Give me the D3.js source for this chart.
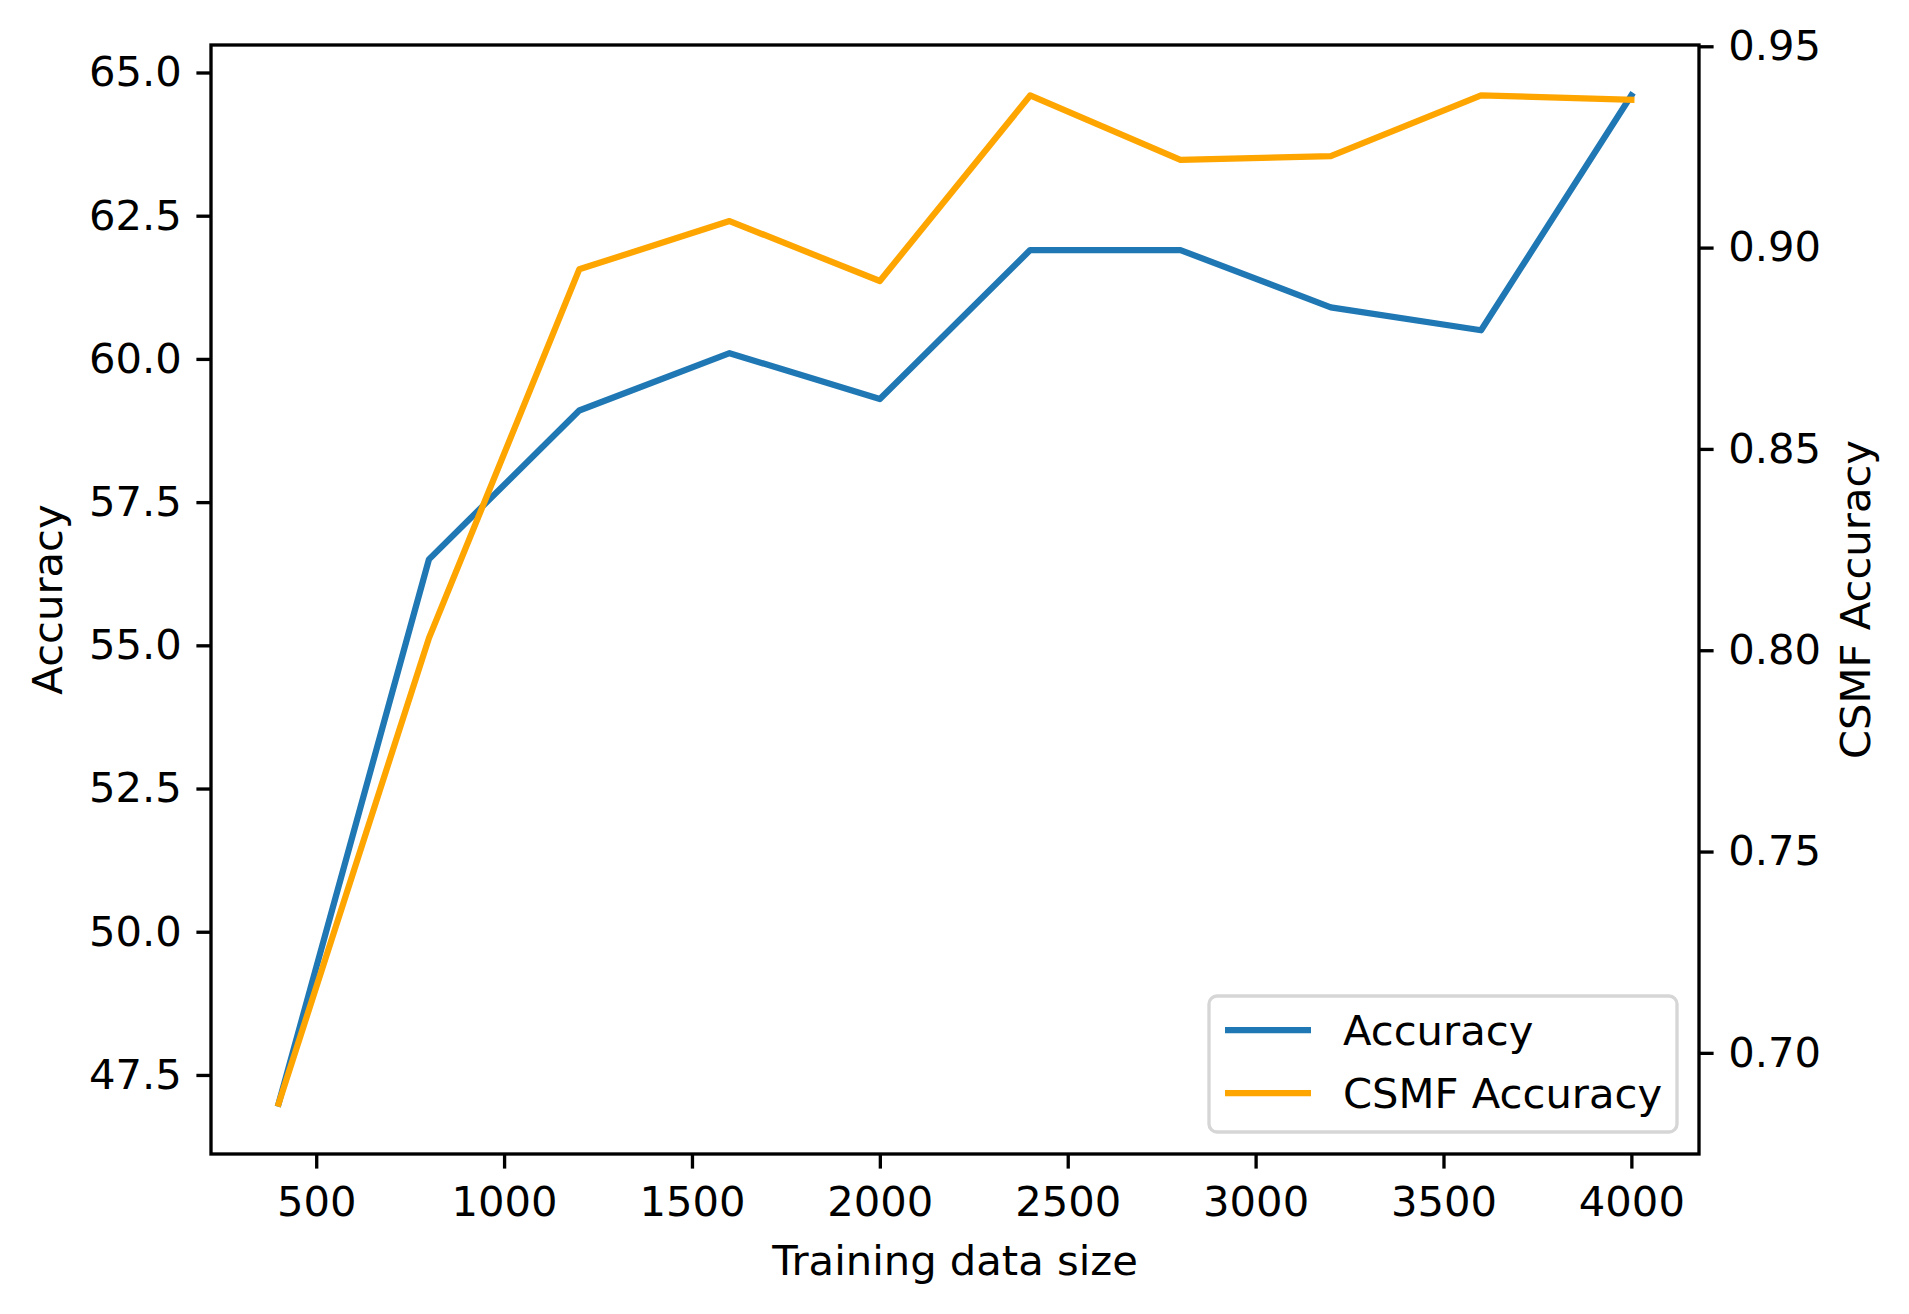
<!DOCTYPE html>
<html>
<head>
<meta charset="utf-8">
<script src="https://cdn.jsdelivr.net/npm/d3@7"></script>
<style>
  html, body { margin: 0; padding: 0; background: #fff; }
  text { font-family: "DejaVu Sans", sans-serif; }
</style>
</head>
<body>
<svg id="chart" width="1909" height="1314"></svg>
<script>
const trainingSizes = [400, 800, 1200, 1600, 2000, 2400, 2800, 3200, 3600, 4000];
const accuracy = [47.0, 56.5, 59.1, 60.1, 59.3, 61.9, 61.9, 60.9, 60.5, 64.6];
const csmfAccuracy = [0.6874, 0.803, 0.8946, 0.9066, 0.8917, 0.9378, 0.9218, 0.9227, 0.9378, 0.9367];
const xTicks = [500, 1000, 1500, 2000, 2500, 3000, 3500, 4000];
const yLeftTicks = [47.5, 50.0, 52.5, 55.0, 57.5, 60.0, 62.5, 65.0];
const yRightTicks = [0.70, 0.75, 0.80, 0.85, 0.90, 0.95];
const seriesNames = ["Accuracy", "CSMF Accuracy"];
const seriesColors = ["#1f77b4", "#ffa500"];

const svg = d3.select("#chart");
const L = 211, R = 1699, T = 45, B = 1154;
const fontSize = 41.7, tickLen = 14.6, pad = 14.6, lw = 6.25, axisW = 3.33;

function padDomain(arr) {
  const mn = d3.min(arr), mx = d3.max(arr), m = (mx - mn) * 0.05;
  return [mn - m, mx + m];
}
const x = d3.scaleLinear().domain(padDomain(trainingSizes)).range([L, R]);
const yL = d3.scaleLinear().domain(padDomain(accuracy)).range([B, T]);
const yR = d3.scaleLinear().domain(padDomain(csmfAccuracy)).range([B, T]);

// lines
const lineA = d3.line().x((d, i) => x(trainingSizes[i])).y(d => yL(d));
const lineC = d3.line().x((d, i) => x(trainingSizes[i])).y(d => yR(d));
svg.append("path").attr("d", lineA(accuracy)).attr("fill", "none")
  .attr("stroke", seriesColors[0]).attr("stroke-width", lw).attr("stroke-linecap", "square").attr("stroke-linejoin", "round");
svg.append("path").attr("d", lineC(csmfAccuracy)).attr("fill", "none")
  .attr("stroke", seriesColors[1]).attr("stroke-width", lw).attr("stroke-linecap", "square").attr("stroke-linejoin", "round");

// axes
function styleAxis(g) {
  g.selectAll(".domain").remove();
  g.selectAll(".tick line").attr("stroke", "#000").attr("stroke-width", axisW);
  g.selectAll(".tick text").attr("font-size", fontSize).attr("fill", "#000")
    .attr("font-family", "DejaVu Sans, sans-serif");
}
const gx = svg.append("g").attr("transform", `translate(0,${B})`)
  .call(d3.axisBottom(x).tickValues(xTicks).tickSize(tickLen).tickPadding(pad + 3).tickFormat(d3.format("d")));
styleAxis(gx);
const gl = svg.append("g").attr("transform", `translate(${L},0)`)
  .call(d3.axisLeft(yL).tickValues(yLeftTicks).tickSize(tickLen).tickPadding(pad).tickFormat(d3.format(".1f")));
styleAxis(gl);
const gr = svg.append("g").attr("transform", `translate(${R},0)`)
  .call(d3.axisRight(yR).tickValues(yRightTicks).tickSize(tickLen).tickPadding(pad).tickFormat(d3.format(".2f")));
styleAxis(gr);

// frame
svg.append("rect").attr("x", L).attr("y", T).attr("width", R - L).attr("height", B - T)
  .attr("fill", "none").attr("stroke", "#000").attr("stroke-width", axisW);

// axis labels
svg.append("text").attr("x", (L + R) / 2).attr("y", 1275).attr("text-anchor", "middle")
  .attr("font-size", fontSize).text("Training data size");
svg.append("text").attr("transform", `translate(62,${(T + B) / 2}) rotate(-90)`).attr("text-anchor", "middle")
  .attr("font-size", fontSize).text("Accuracy");
svg.append("text").attr("transform", `translate(1870,${(T + B) / 2}) rotate(-90)`).attr("text-anchor", "middle")
  .attr("font-size", fontSize).text("CSMF Accuracy");

// legend
const lg = svg.append("g");
lg.append("rect").attr("x", 1209).attr("y", 996).attr("width", 468).attr("height", 136)
  .attr("rx", 8).attr("fill", "#fff").attr("fill-opacity", 0.8).attr("stroke", "#d6d6d6").attr("stroke-width", axisW);
const legendY = [1030, 1093];
seriesNames.forEach((name, i) => {
  lg.append("line").attr("x1", 1225).attr("x2", 1311).attr("y1", legendY[i]).attr("y2", legendY[i])
    .attr("stroke", seriesColors[i]).attr("stroke-width", lw);
  lg.append("text").attr("x", 1343).attr("y", legendY[i]).attr("dy", "0.36em")
    .attr("font-size", fontSize).text(name);
});
</script>
</body>
</html>
